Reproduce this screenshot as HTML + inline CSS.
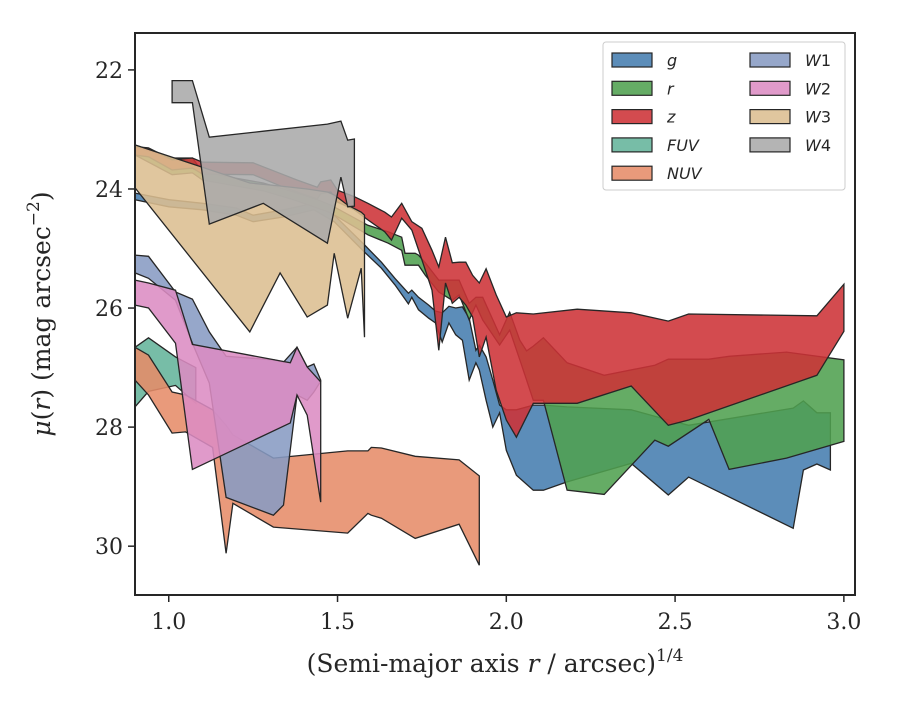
<!DOCTYPE html>
<html><head><meta charset="utf-8"><style>
html,body{margin:0;padding:0;background:#fff;}
svg text{font-family:"DejaVu Serif","Liberation Serif",serif;fill:#262626;}
.leg{font-family:"DejaVu Sans","Liberation Sans",sans-serif;font-size:16px;font-style:italic;}
</style></head><body>
<svg id="chart" width="900" height="700" viewBox="0 0 900 700" xmlns="http://www.w3.org/2000/svg">
<rect x="0" y="0" width="900" height="700" fill="#fff"/>
<g id="bands"></g>
<g id="axes"></g>
<g id="legend"></g>
</svg>
<script>
const xTicks = [1.0, 1.5, 2.0, 2.5, 3.0];
const yTicks = [22, 24, 26, 28, 30];
const seriesNames = ["g","r","z","FUV","NUV","W1","W2","W3","W4"];

const gX  = [0.90,1.00,1.10,1.20,1.25,1.34,1.43,1.49,1.58,1.63,1.67,1.71,1.72,1.74,1.77,1.79,1.81,1.83,1.85,1.87,1.89,1.91,1.92,1.94,1.96,1.98,2.00,2.03,2.08,2.11,2.18,2.37,2.48,2.54,2.85,2.88,2.92,2.96];
const gUp = [24.07,24.18,24.24,24.32,24.44,24.35,24.24,24.44,24.94,25.23,25.50,25.75,25.70,25.82,25.95,26.05,26.08,25.97,26.00,25.98,26.17,26.71,26.62,26.82,27.21,27.63,27.71,27.71,27.63,27.63,27.66,27.71,27.88,27.97,27.68,27.56,27.76,27.76];
const gLo = [24.18,24.30,24.35,24.44,24.55,24.47,24.35,24.55,25.06,25.33,25.61,25.93,25.82,26.03,26.17,26.25,26.57,26.25,26.45,26.54,27.21,26.92,27.04,27.55,28.00,27.76,28.39,28.81,29.06,29.06,28.92,28.61,29.14,28.84,29.70,28.72,28.62,28.72];

const rX  = [0.90,1.01,1.07,1.10,1.20,1.28,1.37,1.44,1.48,1.59,1.65,1.69,1.70,1.73,1.74,1.76,1.80,1.84,1.86,1.89,1.91,1.93,1.98,2.01,2.04,2.06,2.08,2.11,2.18,2.29,2.44,2.48,2.60,2.66,2.83,3.00];
const rUp = [23.29,23.48,23.48,23.71,23.82,23.90,24.05,24.18,24.27,24.61,24.72,24.81,25.08,25.08,25.11,25.24,25.53,25.53,25.53,25.92,25.82,25.82,26.45,26.07,26.54,26.72,26.64,26.50,26.92,27.13,26.96,26.86,26.86,26.81,26.74,26.87];
const rLo = [23.43,23.76,23.73,23.85,23.95,24.03,24.18,24.32,24.40,24.77,24.91,25.03,25.28,25.28,25.28,25.45,25.73,25.87,25.78,26.20,25.95,26.20,26.62,26.37,26.87,27.21,27.55,27.55,29.06,29.13,28.22,28.32,27.87,28.71,28.52,28.24];

const zX  = [0.90,0.94,1.01,1.07,1.10,1.25,1.34,1.38,1.44,1.45,1.48,1.50,1.55,1.59,1.64,1.66,1.69,1.72,1.75,1.78,1.80,1.82,1.84,1.86,1.88,1.90,1.92,1.94,1.97,2.00,2.03,2.08,2.21,2.37,2.48,2.54,2.92,3.00];
const zUp = [23.29,23.31,23.51,23.48,23.55,23.56,23.76,23.85,23.97,23.88,23.85,24.02,24.13,24.24,24.39,24.47,24.24,24.55,24.66,25.03,25.31,24.81,25.24,25.23,25.23,25.45,25.58,25.34,25.78,26.15,26.08,26.10,26.02,26.08,26.22,26.10,26.13,25.60];
const zLo = [23.43,23.46,23.68,23.65,23.75,23.76,23.97,24.05,24.17,24.08,24.05,24.22,24.35,24.52,24.72,24.86,24.49,24.69,25.19,25.70,26.71,25.58,25.92,25.82,25.95,26.15,26.82,26.49,27.38,27.88,28.17,27.60,27.60,27.31,27.97,27.88,27.13,26.39];

const fuvX  = [0.90,0.94,1.02,1.08];
const fuvUp = [26.66,26.50,26.82,27.00];
const fuvLo = [27.66,27.40,27.30,27.60];

const nuvX  = [0.90,0.94,1.01,1.05,1.13,1.17,1.19,1.31,1.53,1.59,1.60,1.63,1.73,1.86,1.92];
const nuvUp = [26.66,26.79,27.41,27.46,27.71,27.97,28.13,28.52,28.40,28.40,28.34,28.35,28.49,28.55,28.82];
const nuvLo = [27.21,27.46,28.10,28.08,28.34,30.12,29.28,29.68,29.78,29.45,29.48,29.53,29.87,29.63,30.32];

const w1X  = [0.90,0.94,1.02,1.07,1.12,1.17,1.31,1.34,1.38,1.41,1.43,1.45];
const w1Up = [25.11,25.13,25.73,25.85,26.40,26.81,26.87,26.91,26.66,26.99,26.94,27.21];
const w1Lo = [25.41,25.50,25.87,26.59,27.26,29.18,29.48,29.31,27.46,27.55,27.41,27.23];

const w2X  = [0.90,0.94,1.02,1.07,1.36,1.38,1.41,1.45];
const w2Up = [25.53,25.58,25.70,26.61,26.92,26.66,26.99,27.24];
const w2Lo = [25.95,26.00,26.59,28.71,27.93,27.46,27.80,29.26];

const w3X  = [0.90,1.24,1.33,1.41,1.47,1.49,1.53,1.57,1.58];
const w3Up = [23.26,23.90,23.95,24.00,24.05,24.10,24.27,24.39,24.44];
const w3Lo = [23.98,26.40,25.41,26.15,25.95,25.08,26.17,25.33,26.49];

const w4X  = [1.01,1.07,1.12,1.28,1.47,1.51,1.53,1.55];
const w4Up = [22.18,22.18,23.13,23.03,22.91,22.86,23.18,23.16];
const w4Lo = [22.55,22.55,24.59,24.24,24.91,23.80,24.30,24.29];

const NS = "http://www.w3.org/2000/svg";
const X0 = 135, X1 = 855, Y0 = 33, Y1 = 595;
const xDom = [0.9, 3.033], yDom = [21.38, 30.82];
function xs(v){ return X0 + (v - xDom[0]) / (xDom[1] - xDom[0]) * (X1 - X0); }
function ys(v){ return Y0 + (v - yDom[0]) / (yDom[1] - yDom[0]) * (Y1 - Y0); }
function mk(tag, attrs, parent){ const e = document.createElementNS(NS, tag); for (const k in attrs) e.setAttribute(k, attrs[k]); parent.appendChild(e); return e; }

const colors = ["#467daf","#50a050","#cd3237","#64b49b","#e68c69","#879bc3","#dc8cc3","#dcbe91","#aaaaaa"];
const bandData = [[gX,gUp,gLo],[rX,rUp,rLo],[zX,zUp,zLo],[fuvX,fuvUp,fuvLo],[nuvX,nuvUp,nuvLo],[w1X,w1Up,w1Lo],[w2X,w2Up,w2Lo],[w3X,w3Up,w3Lo],[w4X,w4Up,w4Lo]];

const bands = document.getElementById("bands");
bandData.forEach((d, i) => {
  const [xa, up, lo] = d;
  const pts = [];
  for (let k = 0; k < xa.length; k++) pts.push(xs(xa[k]).toFixed(1) + "," + ys(up[k]).toFixed(1));
  for (let k = xa.length - 1; k >= 0; k--) pts.push(xs(xa[k]).toFixed(1) + "," + ys(lo[k]).toFixed(1));
  const p = mk("polygon", {points: pts.join(" "), fill: colors[i], "fill-opacity": "0.88", stroke: "#262626", "stroke-width": "1.3", "stroke-linejoin": "miter"}, bands);
  
  
});

const axes = document.getElementById("axes");
const frame = mk("rect", {x: X0, y: Y0, width: X1 - X0, height: Y1 - Y0, fill: "none", stroke: "#262626", "stroke-width": "2"}, axes);


xTicks.forEach(t => {
  const x = xs(t);
  const tk = mk("line", {x1: x, x2: x, y1: Y1, y2: Y1 + 7, stroke: "#262626", "stroke-width": "1.5"}, axes);
  
  
  const lb = mk("text", {x: x, y: Y1 + 34, "text-anchor": "middle", "font-size": "22"}, axes);
  lb.textContent = t.toFixed(1);
  
  
});
yTicks.forEach(t => {
  const y = ys(t);
  const tk = mk("line", {x1: X0 - 7, x2: X0, y1: y, y2: y, stroke: "#262626", "stroke-width": "1.5"}, axes);
  
  
  const lb = mk("text", {x: X0 - 12, y: y + 8, "text-anchor": "end", "font-size": "22"}, axes);
  lb.textContent = String(t);
  
  
});
</script>
<script>
(function(){
  const svg = document.getElementById("axes");
  const NS = "http://www.w3.org/2000/svg";
  const xl = document.createElementNS(NS, "text");
  xl.setAttribute("x", "495"); xl.setAttribute("y", "672"); xl.setAttribute("text-anchor", "middle"); xl.setAttribute("font-size", "25");
  xl.innerHTML = '(Semi-major axis <tspan font-style="italic">r</tspan> / arcsec)<tspan font-size="17" dy="-11">1/4</tspan>';
  
  
  svg.appendChild(xl);
  const yl = document.createElementNS(NS, "text");
  yl.setAttribute("transform", "translate(50,314) rotate(-90)"); yl.setAttribute("text-anchor", "middle"); yl.setAttribute("font-size", "25");
  yl.innerHTML = '<tspan font-style="italic">μ</tspan>(<tspan font-style="italic">r</tspan>) (mag arcsec<tspan font-size="17" dy="-11">−2</tspan><tspan dy="11">)</tspan>';
  
  
  svg.appendChild(yl);

  const lg = document.getElementById("legend");
  const box = document.createElementNS(NS, "rect");
  box.setAttribute("x", "603"); box.setAttribute("y", "42"); box.setAttribute("width", "242"); box.setAttribute("height", "148");
  box.setAttribute("rx", "3"); box.setAttribute("fill", "#fff"); box.setAttribute("fill-opacity", "0.85"); box.setAttribute("stroke", "#cccccc");
  
  
  lg.appendChild(box);
  const cols = ["#467daf","#50a050","#cd3237","#64b49b","#e68c69","#879bc3","#dc8cc3","#dcbe91","#aaaaaa"];
  const labels = ['g','r','z','FUV','NUV','W<tspan font-style="normal">1</tspan>','W<tspan font-style="normal">2</tspan>','W<tspan font-style="normal">3</tspan>','W<tspan font-style="normal">4</tspan>'];
  for (let i = 0; i < 9; i++) {
    const col = i < 5 ? 0 : 1, row = i < 5 ? i : i - 5;
    const px = col ? 750 : 612, ty = 53 + row * 28.3;
    const g = document.createElementNS(NS, "g");
    
    
    const r = document.createElementNS(NS, "rect");
    r.setAttribute("x", px); r.setAttribute("y", ty); r.setAttribute("width", "40"); r.setAttribute("height", "14");
    r.setAttribute("fill", cols[i]); r.setAttribute("fill-opacity", "0.88"); r.setAttribute("stroke", "#262626"); r.setAttribute("stroke-width", "1.2");
    
    
    g.appendChild(r);
    const t = document.createElementNS(NS, "text");
    t.setAttribute("x", px + 55); t.setAttribute("y", ty + 13); t.setAttribute("class", "leg");
    t.innerHTML = labels[i];
    
    
    g.appendChild(t);
    lg.appendChild(g);
  }
})();
</script>
</body></html>
